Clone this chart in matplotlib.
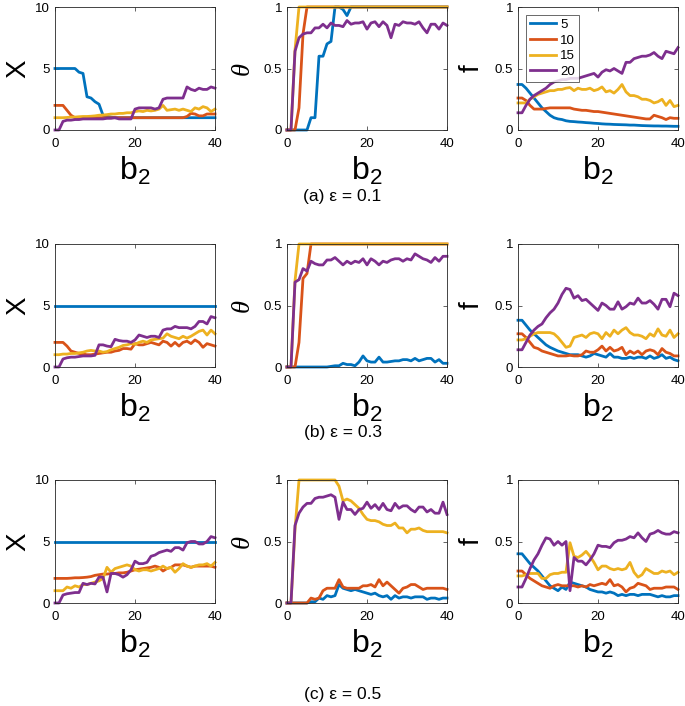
"""Three-row grid of X, theta and f against b2 for eps = 0.1, 0.3, 0.5."""

import matplotlib
matplotlib.use("Agg")
import matplotlib.pyplot as plt

# ---- data --------------------------------------------------------------
b2 = list(range(41))
series_labels = ["5", "10", "15", "20"]
captions = ["(a) ε = 0.1", "(b) ε = 0.3", "(c) ε = 0.5"]

# (a) eps = 0.1
a_X_5 = [5, 5, 5, 5, 5, 5, 4.7, 4.6, 2.7, 2.6, 2.3, 2.1, 1.2, 1.1, 1.05] + [1.0] * 26
a_X_10 = [2, 2, 2, 1.6, 1.2, 1.0] + [1.0] * 27 + [1.1, 1.35, 1.3, 1.15, 1.15, 1.3, 1.3, 1.3]
a_X_15 = [1.0, 1.0, 1.0, 1.02, 1.05, 1.05, 1.08, 1.1, 1.1, 1.12,
          1.15, 1.2, 1.22, 1.25, 1.3, 1.3, 1.35, 1.35, 1.4, 1.4,
          1.5, 1.55, 1.5, 1.6, 1.55, 1.6, 1.7, 2.0, 1.6, 1.65,
          1.7, 1.6, 1.7, 1.6, 1.5, 1.8, 1.7, 1.9, 1.8, 1.5, 1.7]
a_X_20 = [0, 0, 0.7, 0.8, 0.8, 0.85, 0.85, 0.9, 0.9, 0.9,
          0.9, 0.9, 0.9, 0.95, 0.95, 1.0, 0.9, 0.9, 0.9, 0.9,
          1.7, 1.8, 1.8, 1.8, 1.8, 1.7, 1.8, 2.5, 2.6, 2.6,
          2.6, 2.6, 2.6, 3.5, 3.3, 3.2, 3.4, 3.3, 3.3, 3.5, 3.4]

a_T_5 = [0] * 6 + [0.1, 0.1, 0.6, 0.6, 0.7, 0.72, 1.0, 1.0, 0.98, 0.93] + [1.0] * 25
a_T_10 = [0, 0, 0, 0.18, 0.78] + [1.0] * 36
a_T_15 = [0, 0, 0.65] + [1.0] * 38
a_T_20 = [0, 0, 0.64, 0.75, 0.78, 0.79, 0.79, 0.83, 0.83, 0.86,
          0.83, 0.87, 0.85, 0.85, 0.84, 0.89, 0.86, 0.87, 0.87, 0.88,
          0.82, 0.87, 0.88, 0.84, 0.88, 0.85, 0.75, 0.86, 0.85, 0.88,
          0.87, 0.87, 0.86, 0.88, 0.83, 0.79, 0.86, 0.86, 0.82, 0.87, 0.85]

a_F_5 = [0.37, 0.37, 0.34, 0.30, 0.26, 0.22, 0.18, 0.15, 0.12, 0.10,
         0.09, 0.085, 0.075, 0.07, 0.068, 0.065, 0.063, 0.06, 0.058, 0.055,
         0.053, 0.05, 0.048, 0.047, 0.045, 0.044, 0.043, 0.042, 0.04, 0.04,
         0.038, 0.036, 0.035, 0.034, 0.033, 0.033, 0.032, 0.032, 0.031, 0.03, 0.03]
a_F_10 = [0.26, 0.26, 0.24, 0.20, 0.17, 0.17, 0.17, 0.175, 0.18, 0.18,
          0.18, 0.18, 0.18, 0.18, 0.17, 0.165, 0.16, 0.16, 0.155, 0.15,
          0.15, 0.145, 0.14, 0.135, 0.13, 0.125, 0.12, 0.115, 0.11, 0.105,
          0.10, 0.095, 0.09, 0.09, 0.12, 0.11, 0.10, 0.085, 0.10, 0.095, 0.095]
a_F_15 = [0.22, 0.22, 0.22, 0.25, 0.27, 0.29, 0.30, 0.31, 0.32, 0.32,
          0.33, 0.33, 0.34, 0.345, 0.32, 0.34, 0.33, 0.33, 0.34, 0.32,
          0.33, 0.35, 0.31, 0.32, 0.30, 0.33, 0.37, 0.31, 0.28, 0.28,
          0.27, 0.25, 0.25, 0.24, 0.22, 0.23, 0.25, 0.20, 0.24, 0.19, 0.20]
a_F_20 = [0.14, 0.14, 0.20, 0.25, 0.28, 0.30, 0.32, 0.34, 0.37, 0.39,
          0.40, 0.41, 0.41, 0.42, 0.42, 0.42, 0.43, 0.44, 0.45, 0.46,
          0.43, 0.47, 0.49, 0.48, 0.50, 0.48, 0.46, 0.55, 0.55, 0.58,
          0.59, 0.60, 0.60, 0.61, 0.63, 0.60, 0.58, 0.64, 0.63, 0.62, 0.67]

# (b) eps = 0.3
b_X_5 = [5.0] * 41
b_X_10 = [2.0, 2.0, 2.0, 1.7, 1.3, 1.2, 1.1, 1.05, 1.0, 1.0,
          1.05, 1.1, 1.15, 1.2, 1.2, 1.3, 1.35, 1.5, 1.5, 1.45,
          1.9, 1.8, 1.8, 1.9, 2.0, 1.9, 1.8, 2.1, 2.0, 1.7,
          2.0, 1.7, 2.0, 2.1, 1.9, 2.2, 2.0, 1.6, 1.9, 1.8, 1.7]
b_X_15 = [1.0, 1.0, 1.05, 1.05, 1.1, 1.1, 1.15, 1.2, 1.3, 1.35,
          1.3, 1.3, 1.2, 1.25, 1.4, 1.5, 1.6, 1.75, 1.8, 1.9,
          1.85, 2.0, 2.1, 2.0, 2.2, 2.25, 2.3, 2.35, 2.7, 2.5,
          2.4, 2.3, 2.5, 2.35, 2.5, 2.7, 2.9, 3.0, 2.6, 3.0, 2.7]
b_X_20 = [0, 0, 0.65, 0.75, 0.8, 0.8, 0.85, 0.9, 0.9, 0.9,
          0.95, 1.8, 1.8, 1.7, 1.65, 2.25, 2.15, 2.1, 2.1, 2.0,
          2.2, 2.6, 2.5, 2.4, 2.5, 2.5, 2.4, 3.0, 3.1, 3.1,
          3.3, 3.2, 3.2, 3.2, 3.1, 3.3, 3.7, 3.7, 3.5, 4.1, 4.0]

b_T_5 = [0] * 10 + [0, 0.005, 0.01, 0.01, 0.03, 0.02, 0.02, 0.01, 0.04, 0.09,
                    0.05, 0.04, 0.04, 0.08, 0.04, 0.04, 0.045, 0.05, 0.05, 0.06,
                    0.06, 0.05, 0.07, 0.05, 0.06, 0.07, 0.07, 0.04, 0.06, 0.03, 0.03]
b_T_10 = [0, 0, 0, 0.2, 0.72, 0.76] + [1.0] * 35
b_T_15 = [0, 0, 0.7] + [1.0] * 38
b_T_20 = [0, 0, 0.69, 0.71, 0.80, 0.78, 0.86, 0.84, 0.83, 0.83,
          0.87, 0.87, 0.89, 0.86, 0.83, 0.86, 0.84, 0.86, 0.85, 0.88,
          0.83, 0.88, 0.86, 0.83, 0.86, 0.85, 0.87, 0.88, 0.88, 0.86,
          0.88, 0.87, 0.92, 0.90, 0.88, 0.87, 0.85, 0.89, 0.86, 0.90, 0.90]

b_F_5 = [0.38, 0.38, 0.34, 0.30, 0.27, 0.24, 0.21, 0.18, 0.16, 0.145,
         0.13, 0.12, 0.11, 0.10, 0.10, 0.10, 0.09, 0.08, 0.09, 0.11,
         0.10, 0.09, 0.08, 0.11, 0.08, 0.08, 0.07, 0.07, 0.08, 0.07,
         0.08, 0.08, 0.07, 0.09, 0.07, 0.08, 0.10, 0.07, 0.08, 0.06, 0.05]
b_F_10 = [0.27, 0.27, 0.24, 0.20, 0.16, 0.15, 0.13, 0.12, 0.11, 0.10,
          0.09, 0.09, 0.09, 0.095, 0.09, 0.09, 0.10, 0.13, 0.12, 0.12,
          0.14, 0.17, 0.13, 0.16, 0.13, 0.14, 0.16, 0.10, 0.13, 0.11,
          0.13, 0.10, 0.13, 0.14, 0.13, 0.10, 0.15, 0.12, 0.11, 0.09, 0.09]
b_F_15 = [0.22, 0.22, 0.23, 0.25, 0.27, 0.28, 0.28, 0.28, 0.28, 0.27,
          0.24, 0.20, 0.16, 0.17, 0.24, 0.25, 0.26, 0.24, 0.27, 0.28,
          0.27, 0.23, 0.28, 0.25, 0.30, 0.27, 0.30, 0.32, 0.28, 0.26,
          0.26, 0.25, 0.23, 0.27, 0.25, 0.31, 0.26, 0.25, 0.30, 0.24, 0.27]
b_F_20 = [0.14, 0.14, 0.20, 0.26, 0.30, 0.33, 0.35, 0.40, 0.44, 0.47,
          0.52, 0.59, 0.64, 0.63, 0.56, 0.58, 0.54, 0.55, 0.52, 0.49,
          0.46, 0.52, 0.50, 0.47, 0.47, 0.53, 0.47, 0.49, 0.52, 0.51,
          0.56, 0.52, 0.52, 0.54, 0.51, 0.47, 0.55, 0.55, 0.49, 0.60, 0.58]

# (c) eps = 0.5
c_X_5 = [5.0] * 41
c_X_10 = [2.0, 2.0, 2.0, 2.0, 2.02, 2.05, 2.05, 2.07, 2.1, 2.15,
          2.25, 2.3, 2.35, 2.35, 2.4, 2.4, 2.45, 2.45, 2.5, 2.6,
          2.7, 2.75, 2.8, 2.85, 2.9, 3.0, 2.9, 2.6, 2.8, 2.9,
          3.1, 3.1, 3.1, 3.0, 2.9, 3.0, 3.0, 3.0, 3.0, 3.0, 2.9]
c_X_15 = [1.0, 1.0, 1.0, 1.3, 1.2, 1.4, 1.3, 1.5, 1.5, 1.6,
          1.7, 1.8, 2.0, 2.9, 2.5, 2.8, 2.9, 3.0, 3.1, 3.0,
          2.7, 2.6, 2.7, 2.7, 2.6, 2.7, 2.8, 3.0, 2.8, 2.9,
          2.5, 2.8, 3.2, 3.0, 2.9, 3.0, 3.1, 3.1, 3.2, 3.0, 3.3]
c_X_20 = [0, 0, 0.65, 0.75, 0.8, 0.85, 0.85, 1.6, 1.5, 1.6,
          1.55, 2.1, 2.1, 0.9, 2.4, 2.4, 2.3, 2.1, 2.3, 2.7,
          3.4, 3.2, 3.2, 3.3, 3.8, 3.9, 4.1, 4.2, 4.3, 4.2,
          4.5, 4.5, 4.3, 4.9, 5.0, 5.0, 4.8, 4.8, 5.0, 5.4, 5.3]

c_T_5 = [0, 0, 0, 0, 0, 0, 0.01, 0.01, 0.04, 0.03,
         0.06, 0.05, 0.06, 0.15, 0.12, 0.11, 0.10, 0.11, 0.10, 0.09,
         0.08, 0.07, 0.08, 0.06, 0.05, 0.06, 0.03, 0.06, 0.04, 0.05,
         0.05, 0.04, 0.05, 0.05, 0.05, 0.03, 0.04, 0.04, 0.03, 0.04, 0.04]
c_T_10 = [0, 0, 0, 0, 0, 0, 0.04, 0.03, 0.04, 0.10,
          0.12, 0.12, 0.12, 0.19, 0.13, 0.12, 0.12, 0.12, 0.12, 0.14,
          0.14, 0.15, 0.13, 0.19, 0.14, 0.17, 0.14, 0.11, 0.08, 0.12,
          0.13, 0.15, 0.15, 0.13, 0.11, 0.12, 0.12, 0.12, 0.12, 0.12, 0.11]
c_T_15 = [0, 0, 0.6, 1, 1, 1, 1, 1, 1, 1,
          1, 1, 1, 0.95, 0.83, 0.845, 0.83, 0.80, 0.77, 0.72,
          0.68, 0.67, 0.67, 0.66, 0.64, 0.63, 0.63, 0.65, 0.61, 0.61,
          0.57, 0.60, 0.60, 0.61, 0.59, 0.58, 0.58, 0.58, 0.58, 0.58, 0.57]
c_T_20 = [0, 0, 0.63, 0.73, 0.78, 0.81, 0.81, 0.85, 0.86, 0.86,
          0.87, 0.88, 0.86, 0.68, 0.82, 0.76, 0.76, 0.72, 0.76, 0.77,
          0.82, 0.77, 0.80, 0.76, 0.81, 0.76, 0.75, 0.81, 0.77, 0.79,
          0.79, 0.76, 0.74, 0.78, 0.78, 0.74, 0.76, 0.73, 0.73, 0.82, 0.72]

c_F_5 = [0.40, 0.40, 0.36, 0.32, 0.29, 0.26, 0.22, 0.18, 0.14, 0.12,
         0.10, 0.13, 0.11, 0.17, 0.16, 0.15, 0.14, 0.13, 0.11, 0.10,
         0.09, 0.09, 0.08, 0.09, 0.08, 0.06, 0.07, 0.06, 0.07, 0.07,
         0.06, 0.07, 0.07, 0.07, 0.06, 0.05, 0.06, 0.05, 0.05, 0.06, 0.06]
c_F_10 = [0.26, 0.26, 0.23, 0.20, 0.18, 0.16, 0.14, 0.13, 0.12, 0.14,
          0.15, 0.14, 0.14, 0.14, 0.14, 0.13, 0.14, 0.13, 0.15, 0.14,
          0.15, 0.16, 0.15, 0.19, 0.14, 0.15, 0.13, 0.09, 0.12, 0.13,
          0.16, 0.15, 0.14, 0.11, 0.12, 0.12, 0.12, 0.13, 0.13, 0.13, 0.11]
c_F_15 = [0.22, 0.22, 0.23, 0.24, 0.24, 0.24, 0.20, 0.20, 0.23, 0.24,
          0.24, 0.25, 0.25, 0.49, 0.38, 0.37, 0.39, 0.42, 0.38, 0.33,
          0.27, 0.30, 0.30, 0.28, 0.27, 0.28, 0.27, 0.28, 0.33, 0.25,
          0.21, 0.23, 0.28, 0.26, 0.24, 0.24, 0.26, 0.25, 0.26, 0.23, 0.25]
c_F_20 = [0.13, 0.13, 0.20, 0.28, 0.35, 0.40, 0.47, 0.53, 0.52, 0.47,
          0.50, 0.47, 0.50, 0.10, 0.37, 0.34, 0.34, 0.31, 0.35, 0.40,
          0.47, 0.46, 0.46, 0.45, 0.49, 0.51, 0.51, 0.52, 0.54, 0.53,
          0.57, 0.53, 0.50, 0.56, 0.57, 0.59, 0.57, 0.56, 0.56, 0.58, 0.57]

# ---- styling ------------------------------------------------------------
COLORS = ["#0072BD", "#D95319", "#EDB120", "#7E2F8E"]  # MATLAB default order
AX_COLOR = "#262626"

plt.rcParams["font.family"] = ["Liberation Sans", "DejaVu Sans"]
plt.rcParams["mathtext.default"] = "regular"

rows = [
    [(a_X_5, a_X_10, a_X_15, a_X_20), (a_T_5, a_T_10, a_T_15, a_T_20), (a_F_5, a_F_10, a_F_15, a_F_20)],
    [(b_X_5, b_X_10, b_X_15, b_X_20), (b_T_5, b_T_10, b_T_15, b_T_20), (b_F_5, b_F_10, b_F_15, b_F_20)],
    [(c_X_5, c_X_10, c_X_15, c_X_20), (c_T_5, c_T_10, c_T_15, c_T_20), (c_F_5, c_F_10, c_F_15, c_F_20)],
]

W, H = 685, 706
col_left = [55, 287, 518]      # px
row_bottom = [130, 367, 603]   # px
ax_w, ax_h = 160, 123
caption_y = [197, 432, 695]    # px, centre of caption text


def style_axes(ax, col):
    ax.set_xlim(0, 40)
    ax.set_xticks([0, 20, 40])
    if col == 0:
        ax.set_ylim(0, 10)
        ax.set_yticks([0, 5, 10])
        ax.set_ylabel("X", fontsize=20, labelpad=3)
    else:
        ax.set_ylim(0, 1)
        ax.set_yticks([0, 0.5, 1])
        ax.set_yticklabels(["0", "0.5", "1"])
        if col == 1:
            ax.set_ylabel("θ", fontsize=19, labelpad=7,
                          family="Liberation Serif", style="italic")
        else:
            ax.set_ylabel("f", fontsize=20, labelpad=7)
    ax.set_xlabel(r"$b_2$", fontsize=23, labelpad=3)
    ax.tick_params(direction="in", top=True, right=True, length=3, width=0.5,
                   labelsize=9.5, colors=AX_COLOR, labelcolor="black")
    ax.tick_params(axis="x", pad=6)
    for sp in ax.spines.values():
        sp.set_color(AX_COLOR)
        sp.set_linewidth(0.6)


fig = plt.figure(figsize=(W / 100, H / 100), dpi=100)

for r, row in enumerate(rows):
    for c, panel in enumerate(row):
        ax = fig.add_axes([col_left[c] / W, 1 - row_bottom[r] / H, ax_w / W, ax_h / H])
        for ys, color, lab in zip(panel, COLORS, series_labels):
            ax.plot(b2, ys, color=color, lw=2.0, label=lab, clip_on=False)
        style_axes(ax, c)
        if r == 0 and c == 2:
            leg = ax.legend(loc="upper left", fontsize=9.5, frameon=True, fancybox=False,
                            handlelength=2.0, handletextpad=0.3, labelspacing=0.25,
                            borderpad=0.3, borderaxespad=0.6)
            leg.get_frame().set_edgecolor(AX_COLOR)
            leg.get_frame().set_linewidth(0.6)
    fig.text(0.5, 1 - caption_y[r] / H, captions[r], ha="center", va="center", fontsize=12.5)

fig.savefig("out.png", dpi=100)
